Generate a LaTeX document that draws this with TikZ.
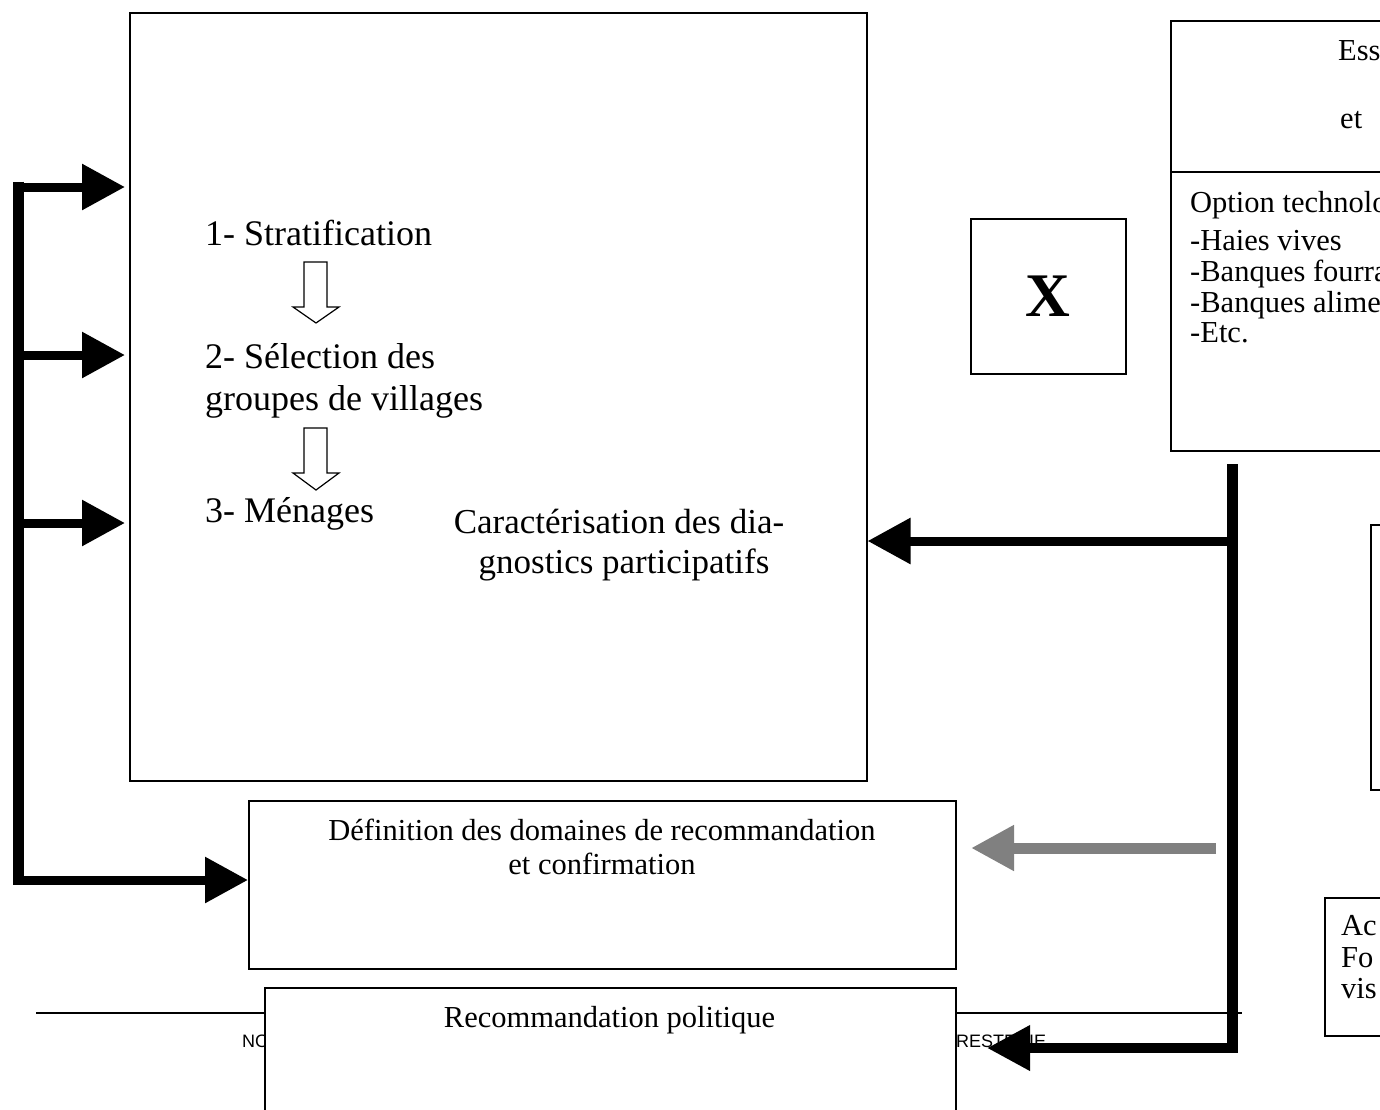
\documentclass[tikz,border=0pt]{standalone}
\usepackage{fontspec}
\setmainfont{Liberation Serif}
\newfontfamily\footsans{Liberation Sans}
\usetikzlibrary{arrows.meta}
\definecolor{arrgray}{RGB}{128,128,128}
\tikzset{
  box/.style={draw=black, line width=1.5pt, fill=white, rectangle, inner sep=0pt, anchor=north west},
  big/.style={font=\fontsize{36}{42}\selectfont, inner sep=0pt},
  bigc/.style={font=\fontsize{35}{40}\selectfont, inner sep=0pt},
  mid/.style={font=\fontsize{30.5}{34}\selectfont, inner sep=0pt},
  foot/.style={font=\footsans\fontsize{18}{18}\selectfont, inner sep=0pt, anchor=base west},
  fat/.style={line width=9pt, -{Triangle[length=43pt,width=44pt]}},
  fatr/.style={line width=10pt, -{Triangle[length=43pt,width=43pt]}},
  busline/.style={line width=11pt},
  hollow/.style={draw=black, line width=1.2pt, fill=white, line join=miter},
}
\begin{document}
\begin{tikzpicture}[x=1pt,y=-1pt]
\clip (0,0) rectangle (1380,1109);
\fill[white] (0,0) rectangle (1380,1109);

% boxes
\node[box, minimum width=737pt, minimum height=768pt] (main) at (129,12) {};
\node[box, minimum width=155pt, minimum height=155pt] (xbox) at (970,218) {};
\node[box, minimum width=260pt, minimum height=430pt] (ess) at (1170,20) {};
\coordinate (dv) at (0,172);
\draw[line width=1.5pt] (ess.west |- dv) -- (ess.east |- dv);
\node[box, minimum width=100pt, minimum height=265pt] (opt) at (1370,524) {};
\node[box, minimum width=100pt, minimum height=138pt] (act) at (1324,897) {};
\node[box, minimum width=707pt, minimum height=168pt] (defn) at (248,800) {};

% footer rule and text
\coordinate (rl) at (36,1013);
\coordinate (rr) at (1242,1013);
\draw[line width=1.5pt] (rl) -- (rr);
\node[foot] (f1) at (242,1047) {NO};
\node[foot] (f2) at (956,1047) {RESTERIE};

\node[box, minimum width=691pt, minimum height=200pt] (recom) at (264,987) {};

% texts in main box
\node[big, anchor=base west] (t1) at (205,245) {1- Stratification};
\node[big, anchor=base west] (t2) at (205,368) {2- Sélection des};
\node[big, anchor=base west] (t2b) at (205,410) {groupes de villages};
\node[big, anchor=base west] (t3) at (205,522) {3- Ménages};
\node[bigc, anchor=base] (c1) at (619,533) {Caractérisation des dia-};
\node[bigc, anchor=base] (c2) at (624,573) {gnostics participatifs};

% hollow arrows
\draw[hollow] (304,262) -- (327,262) -- (327,307) -- (339,307) -- (316,323) -- (293,307) -- (304,307) -- cycle;
\begin{scope}[shift={(0,166)}]
\draw[hollow] (304,262) -- (327,262) -- (327,307) -- (339,307) -- (316,324) -- (293,307) -- (304,307) -- cycle;
\end{scope}

% X
\node[font=\fontsize{62}{62}\selectfont\bfseries, inner sep=0pt] (xl) at (xbox.center) {X};

% right top box texts
\node[mid, anchor=base west] (e1) at (1338,60) {Ess};
\node[mid, anchor=base west] (e2) at (1340,128) {et};
\node[mid, anchor=base west] (o1) at (1190,212) {Option technolo};
\node[mid, anchor=base west] (o2) at (1190,250) {-Haies vives};
\node[mid, anchor=base west] (o3) at (1190,281) {-Banques fourra};
\node[mid, anchor=base west] (o4) at (1190,312) {-Banques alime};
\node[mid, anchor=base west] (o5) at (1190,342) {-Etc.};

% bottom right box texts
\node[mid, anchor=base west] (a1) at (1341,935) {Ac};
\node[mid, anchor=base west] (a2) at (1341,967) {Fo};
\node[mid, anchor=base west] (a3) at (1341,998) {vis};

% definition and recommendation texts
\node[mid, anchor=base] (d1) at (602,840) {Définition des domaines de recommandation};
\node[mid, anchor=base] (d2) at (602,874) {et confirmation};
\node[mid, anchor=base] (r1) at (609.5,1027) {Recommandation politique};

% left bus
\coordinate (lbtop) at (18,181.5);
\coordinate (lbbot) at (18,885);
\draw[busline] (lbtop) -- (lbbot);
\coordinate (lb1) at (18,187);
\coordinate (lb2) at (18,355);
\coordinate (lb3) at (18,523);
\coordinate (lb4) at (13,880);
\coordinate (la1) at (125,187);
\coordinate (la2) at (125,355);
\coordinate (la3) at (125,523);
\draw[fat] (lb1) -- (la1);
\draw[fat] (lb2) -- (la2);
\draw[fat] (lb3) -- (la3);
\draw[fat] (lb4) -- (lb4 -| defn.west);

% right bus
\coordinate (rbtop) at (1232,464);
\coordinate (rbbot) at (1232,1053);
\draw[busline] (rbtop) -- (rbbot);
\coordinate (rb1) at (1232,541);
\draw[fat] (rb1) -- (rb1 -| main.east);
\coordinate (rb2) at (1237,1048);
\coordinate (rt2) at (987,1048);
\draw[fatr] (rb2) -- (rt2);

% gray arrow
\coordinate (g1) at (1216,848);
\coordinate (g2) at (971,848);
\draw[line width=11pt, arrgray, -{Triangle[length=43pt,width=43pt]}] (g1) -- (g2);
\end{tikzpicture}
\end{document}
